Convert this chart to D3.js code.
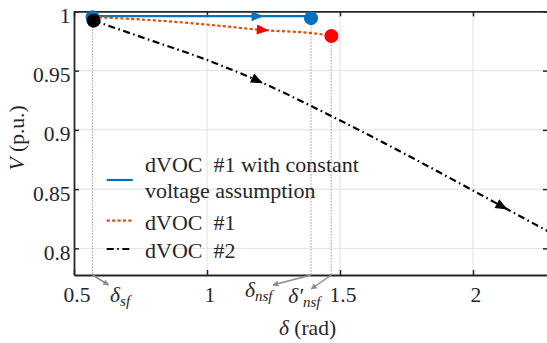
<!DOCTYPE html>
<html>
<head>
<meta charset="utf-8">
<script src="https://cdn.jsdelivr.net/npm/d3@7"></script>
<style>
  html, body { margin: 0; padding: 0; background: #fff; }
  svg { display: block; }
  svg text { font-family: 'Liberation Serif', 'DejaVu Serif', serif; }
</style>
</head>
<body>
<svg id="chart" width="547" height="343"></svg>
<script>
// Trajectories of voltage magnitude vs. power angle
const deltaTicks = [0.5, 1, 1.5, 2];
const vTicks = [0.8, 0.85, 0.9, 0.95, 1];

const constDelta = [0.570, 1.391];
const constV     = [0.996, 0.996];

const dvoc1Delta = [0.573, 0.80, 0.975, 1.21, 1.43, 1.467];
const dvoc1V     = [0.9952, 0.9925, 0.9894, 0.9843, 0.9807, 0.9790];

const dvoc2Delta = [0.574, 0.80, 0.975, 1.19, 1.476, 2.00, 2.11, 2.283];
const dvoc2V     = [0.9922, 0.9747, 0.9611, 0.9416, 0.9107, 0.8488, 0.8353, 0.8143];

// direction arrows along each trajectory (delta positions)
const constArrows = [1.19];
const dvoc1Arrows = [1.21];
const dvoc2Arrows = [1.19, 2.11];

// start / end points
const markerDelta = [0.570, 1.391, 1.4677, 0.5737];
const markerV     = [0.9950, 0.9943, 0.9792, 0.9922];
const markerColor = ["#0072BD", "#0072BD", "#FF0000", "#000000"];

// critical angles
const critNames = ["sf", "nsf", "nsf'"];
const critDelta = [0.570, 1.391, 1.467];

const legendLabels = [["dVOC  #1 with constant", "voltage assumption"], ["dVOC  #1"], ["dVOC  #2"]];

const FONT = "'Liberation Serif', 'DejaVu Serif', serif";
const svg = d3.select("#chart").style("font-family", FONT);
const L = 74, R = 548, T = 11.4, B = 275;
const x = d3.scaleLinear().domain([0.5, 2.282]).range([L, R]);
const y = d3.scaleLinear().domain([0.7775, 1]).range([B, T]);

const axisColor = "#262626";
const gridColor = "#e1e1e1";

// grid
const grid = svg.append("g");
grid.selectAll("line.gx").data(deltaTicks.filter(d => d > 0.5)).join("line")
  .attr("x1", d => x(d)).attr("x2", d => x(d)).attr("y1", T).attr("y2", B)
  .attr("stroke", gridColor).attr("stroke-width", 1);
grid.selectAll("line.gy").data(vTicks.filter(d => d < 1)).join("line")
  .attr("x1", L).attr("x2", R).attr("y1", d => y(d)).attr("y2", d => y(d))
  .attr("stroke", gridColor).attr("stroke-width", 1);

// box axes with inward ticks
const tk = 5;
const gBottom = svg.append("g").attr("transform", `translate(0,${B})`)
  .call(d3.axisBottom(x).tickValues(deltaTicks).tickSizeInner(-tk).tickSizeOuter(0).tickFormat(""));
const gTop = svg.append("g").attr("transform", `translate(0,${T})`)
  .call(d3.axisTop(x).tickValues(deltaTicks).tickSizeInner(-tk).tickSizeOuter(0).tickFormat(""));
const gLeft = svg.append("g").attr("transform", `translate(${L},0)`)
  .call(d3.axisLeft(y).tickValues(vTicks).tickSizeInner(-tk).tickSizeOuter(0).tickFormat(""));
const gRight = svg.append("g").attr("transform", `translate(${R},0)`)
  .call(d3.axisRight(y).tickValues(vTicks).tickSizeInner(-tk).tickSizeOuter(0).tickFormat(""));
[gBottom, gTop, gLeft, gRight].forEach(g => {
  g.attr("font-family", null);
  g.select(".domain").attr("stroke", axisColor).attr("stroke-width", 1.8);
  g.selectAll(".tick line").attr("stroke", axisColor).attr("stroke-width", 1.5);
});

function txt(sel) {
  return sel.style("font-family", FONT).attr("fill", "#262626");
}

// tick labels
txt(svg.append("g").selectAll("text").data(deltaTicks).join("text"))
  .attr("x", d => x(d) + 3).attr("y", 302)
  .attr("text-anchor", "middle").attr("font-size", 21.5)
  .text(d => d3.format("")(d));
txt(svg.append("g").selectAll("text").data(vTicks).join("text"))
  .attr("x", 70.5).attr("y", d => y(d) + 11.5)
  .attr("text-anchor", "end").attr("font-size", 21.5)
  .text(d => d3.format("")(d));

// axis titles
const xt = txt(svg.append("text")).attr("x", 307.5).attr("y", 335)
  .attr("text-anchor", "middle").attr("font-size", 21.5);
xt.append("tspan").style("font-style", "italic").text("δ");
xt.append("tspan").text(" (rad)");
const yt = txt(svg.append("text")).attr("transform", "translate(24,138) rotate(-90)")
  .attr("text-anchor", "middle").attr("font-size", 21.5);
yt.append("tspan").style("font-style", "italic").text("V");
yt.append("tspan").text(" (p.u.)");

// guide lines from critical points down to the axis
svg.append("g").selectAll("line").data(critDelta).join("line")
  .attr("x1", d => x(d)).attr("x2", d => x(d))
  .attr("y1", (d, i) => y(markerV[i])).attr("y2", B)
  .attr("stroke", "#9a9a9a").attr("stroke-width", 1).attr("stroke-dasharray", "1.5,1.5");

// trajectories
const line = d3.line().x(d => x(d[0])).y(d => y(d[1])).curve(d3.curveMonotoneX);
const zip = (a, b) => a.map((v, i) => [v, b[i]]);
const series = [
  { pts: zip(constDelta, constV), color: "#0072BD", dash: null, width: 2.2, arrows: constArrows, arrowColor: "#0072BD" },
  { pts: zip(dvoc1Delta, dvoc1V), color: "#D95319", dash: "3.2,2.2", width: 2.2, arrows: dvoc1Arrows, arrowColor: "#FF0000" },
  { pts: zip(dvoc2Delta, dvoc2V), color: "#000000", dash: "7,3.5,1.6,3.5", width: 2.2, arrows: dvoc2Arrows, arrowColor: "#000000" }
];

const defs = svg.append("defs");
defs.append("clipPath").attr("id", "plotclip").append("rect")
  .attr("x", L).attr("y", T - 10).attr("width", R - L).attr("height", B - T + 10);

const plot = svg.append("g").attr("clip-path", "url(#plotclip)");
series.forEach(s => {
  plot.append("path").attr("d", line(s.pts)).attr("fill", "none")
    .attr("stroke", s.color).attr("stroke-width", s.width)
    .attr("stroke-dasharray", s.dash);
});

// arrowheads placed on the drawn curves
function interpV(pts, d) {
  for (let i = 0; i < pts.length - 1; i++) {
    if (d >= pts[i][0] && d <= pts[i + 1][0]) {
      const t = (d - pts[i][0]) / (pts[i + 1][0] - pts[i][0]);
      return pts[i][1] + t * (pts[i + 1][1] - pts[i][1]);
    }
  }
  return pts[pts.length - 1][1];
}
series.forEach(s => {
  s.arrows.forEach(d => {
    const px = x(d), py = y(interpV(s.pts, d));
    const dx2 = x(d + 0.03), dy2 = y(interpV(s.pts, d + 0.03));
    const ang = Math.atan2(dy2 - py, dx2 - px) * 180 / Math.PI;
    plot.append("path").attr("d", "M6,0 L-6,-5 L-6,5 Z")
      .attr("fill", s.arrowColor)
      .attr("transform", `translate(${px},${py}) rotate(${ang})`);
  });
});

// start / end markers
svg.append("g").selectAll("circle").data(markerDelta).join("circle")
  .attr("cx", d => x(d)).attr("cy", (d, i) => y(markerV[i])).attr("r", 7)
  .attr("fill", (d, i) => markerColor[i]);

// legend
const lg = svg.append("g");
const sampleY = [180, 220.7, 249];
const textY = [[171.7, 198.3], [230], [258.3]];
series.forEach((s, i) => {
  lg.append("line").attr("x1", 106.7).attr("x2", 132.7).attr("y1", sampleY[i]).attr("y2", sampleY[i])
    .attr("stroke", s.color).attr("stroke-width", 2.2).attr("stroke-dasharray", s.dash);
  legendLabels[i].forEach((t, j) => {
    txt(lg.append("text")).attr("x", 145).attr("y", textY[i][j])
      .attr("font-size", 22).style("white-space", "pre").text(t);
  });
});

// critical angle annotations with grey pointer arrows
defs.append("marker").attr("id", "ptr").attr("viewBox", "0 0 10 10")
  .attr("refX", 9).attr("refY", 5).attr("markerWidth", 6).attr("markerHeight", 6)
  .attr("orient", "auto").attr("markerUnits", "userSpaceOnUse")
  .append("path").attr("d", "M0,0 L10,5 L0,10 Z").attr("fill", "#8c8c8c");

const ptrEnd = [[16, 10], [-38, 10], [-20, 14]];
const labelPos = [[17.5, 302], [-66, 297], [-43, 303]];
critDelta.forEach((d, i) => {
  svg.append("line").attr("x1", x(d)).attr("y1", B).attr("x2", x(d) + ptrEnd[i][0]).attr("y2", B + ptrEnd[i][1])
    .attr("stroke", "#8c8c8c").attr("stroke-width", 1.5).attr("marker-end", "url(#ptr)");
  const t = txt(svg.append("text")).attr("x", x(d) + labelPos[i][0]).attr("y", labelPos[i][1])
    .attr("font-size", 21.5).style("font-style", "italic");
  const name = critNames[i];
  t.append("tspan").text(name.endsWith("'") ? "δ′" : "δ");
  t.append("tspan").attr("font-size", 15).attr("dy", 4).text(name.replace("'", ""));
});
</script>
</body>
</html>
